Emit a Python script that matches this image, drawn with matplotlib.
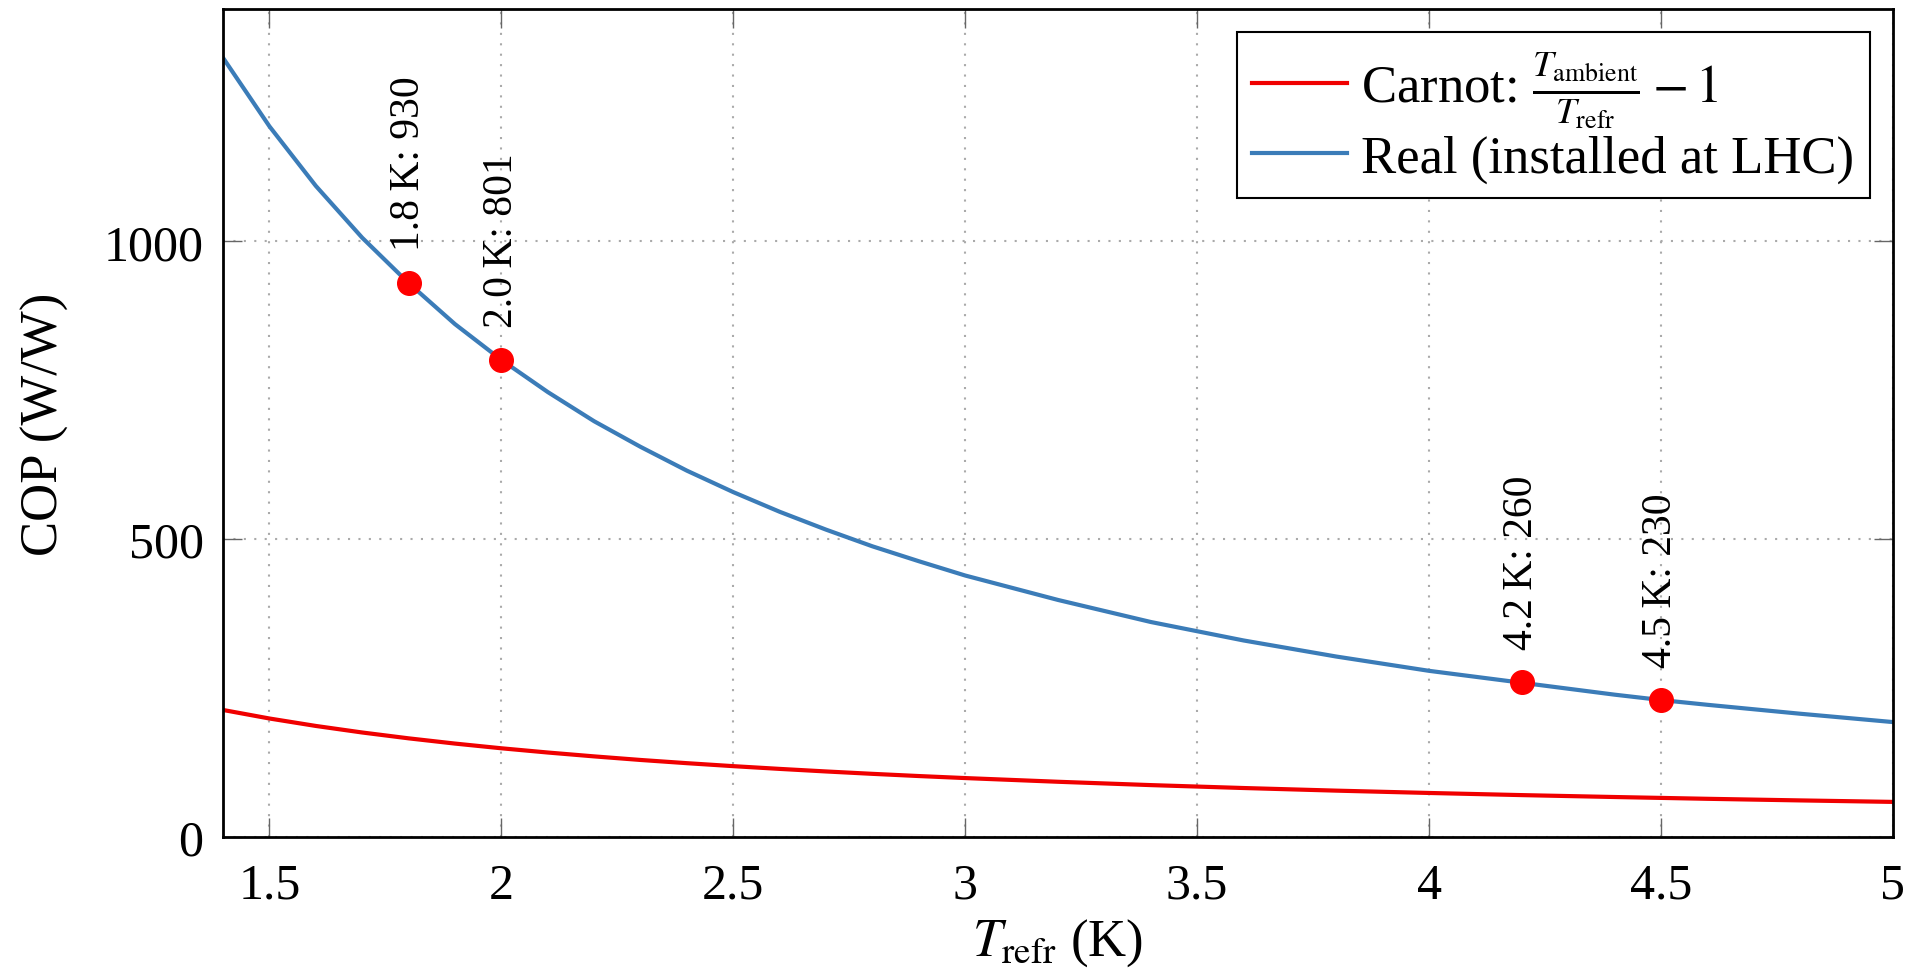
import numpy as np
import matplotlib
matplotlib.use("Agg")
import matplotlib.pyplot as plt

plt.rcParams['font.family'] = ['Liberation Serif', 'DejaVu Serif']
plt.rcParams['mathtext.fontset'] = 'stix'

# values
t_refr = [1.4, 1.5, 1.6, 1.7, 1.8, 1.9, 2.0, 2.1, 2.2, 2.3, 2.4, 2.5, 2.6,
          2.7, 2.8, 2.9, 3.0, 3.2, 3.4, 3.6, 3.8, 4.0, 4.2, 4.4, 4.5, 4.6,
          4.8, 5.0]
cop_carnot = [213.3, 199, 186.5, 175.5, 165.7, 156.9, 149, 141.9, 135.4,
              129.4, 124, 119, 114.4, 110.1, 106.1, 102.4, 99, 92.8, 87.2,
              82.3, 77.9, 74, 70.4, 67.2, 65.7, 64.2, 61.5, 59]
cop_real = [1308, 1193, 1093, 1006, 930, 861, 801, 747, 698, 655, 615, 579,
            546, 516, 488, 463, 439, 398, 361, 330, 303, 279, 259, 239, 230,
            222, 207, 193]

pts_t = [1.8, 2.0, 4.2, 4.5]
pts_cop = [930, 801, 260, 230]

fig = plt.figure(figsize=(19.08, 9.78), dpi=100)
ax = fig.add_axes([0.1169, 0.1431, 0.8752, 0.8467])

ax.plot(t_refr, cop_carnot, color='#f00000', lw=3,
        label=r'Carnot: $\frac{T_\mathrm{ambient}}{T_\mathrm{refr}} - 1$')
ax.plot(t_refr, cop_real, color='#3b7cb8', lw=3,
        label='Real (installed at LHC)')
ax.plot(pts_t, pts_cop, 'o', color='#ff0000', ms=17, zorder=5)

for t, c in zip(pts_t, pts_cop):
    ax.annotate(f'{t:.1f}\u2009K: {c}', (t, c), xytext=(0, 24),
                textcoords='offset points', rotation=90,
                ha='center', va='bottom', fontsize=30)

ax.set_xlim(1.4, 5)
ax.set_ylim(0, 1390)
ax.set_xticks([1.5, 2, 2.5, 3, 3.5, 4, 4.5, 5])
ax.set_xticklabels(['1.5', '2', '2.5', '3', '3.5', '4', '4.5', '5'])
ax.set_yticks([0, 500, 1000])

ax.grid(True, color='#aaaaaa', linestyle=(0, (1, 4)), lw=1.5)
ax.tick_params(direction='in', length=14, width=1, color='#666666',
               top=True, right=True, labelsize=36)
ax.tick_params(axis='x', pad=18)
ax.tick_params(axis='y', pad=14)
for s in ax.spines.values():
    s.set_linewidth(2)
    s.set_color('black')

ax.set_xlabel(r'$T_\mathrm{refr}$ (K)', fontsize=38, labelpad=6)
ax.set_ylabel('COP (W/W)', fontsize=38, labelpad=25)

leg = ax.legend(loc='upper right', fontsize=38, handlelength=1.8,
                handletextpad=0.25, borderpad=0.3, labelspacing=0.1,
                borderaxespad=0, fancybox=False, framealpha=1,
                edgecolor='black', bbox_to_anchor=(0.986, 0.972))
leg.get_frame().set_linewidth(1.5)

fig.savefig('out.png', dpi=100)
